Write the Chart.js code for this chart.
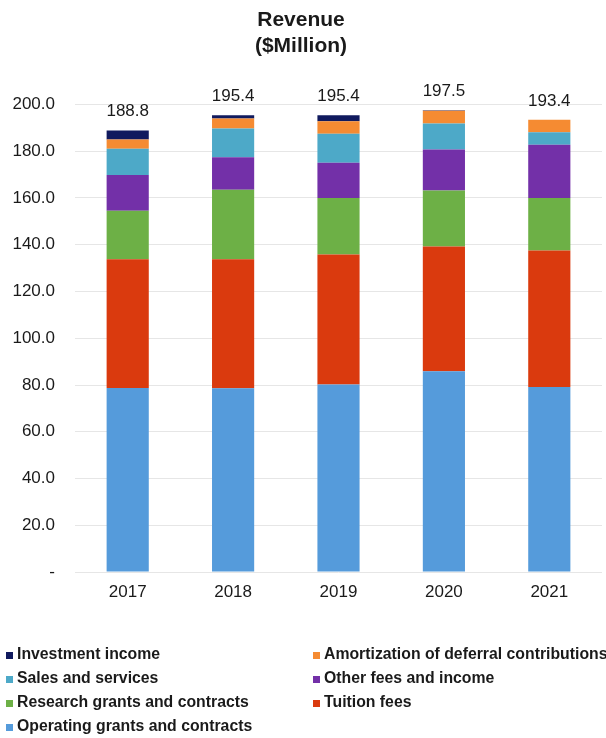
<!DOCTYPE html>
<html>
<head>
<meta charset="utf-8">
<script src="https://cdn.jsdelivr.net/npm/chart.js@4"></script>
<style>
  html, body { margin: 0; padding: 0; background: #ffffff; }
  #wrap { width: 606px; height: 738px; position: relative; }
</style>
</head>
<body>
<div id="wrap"><canvas id="grafico" width="606" height="738"></canvas></div>
<script>
// anos e componentes da receita (em $ milhoes), de baixo para cima na pilha
const anos = ['2017', '2018', '2019', '2020', '2021'];
const operatingGrants = [78.7, 78.6, 80.2, 85.9, 79.2];
const tuitionFees = [55.1, 55.2, 55.6, 53.3, 58.3];
const researchGrants = [20.7, 29.7, 24.2, 24.0, 22.5];
const otherFees = [15.3, 13.9, 15.0, 17.5, 22.7];
const salesServices = [11.2, 12.3, 12.5, 11.1, 5.4];
const amortization = [4.0, 4.3, 5.3, 5.5, 5.3];
const investmentIncome = [3.8, 1.4, 2.6, 0.2, 0.0];
const ticksY = [0, 20, 40, 60, 80, 100, 120, 140, 160, 180, 200];

const fonte = "'Liberation Sans', Arial, sans-serif";

function serie(label, data, cor) {
    return {
        label: label,
        data: data,
        backgroundColor: cor,
        borderWidth: 0,
        barPercentage: 0.4,
        categoryPercentage: 1.0
    };
}

const series = [
    serie('Operating grants and contracts', operatingGrants, '#559BDB'),
    serie('Tuition fees', tuitionFees, '#DA3A0E'),
    serie('Research grants and contracts', researchGrants, '#6DB046'),
    serie('Other fees and income', otherFees, '#7330A8'),
    serie('Sales and services', salesServices, '#4DA9C8'),
    serie('Amortization of deferral contributions', amortization, '#F58B32'),
    serie('Investment income', investmentIncome, '#101A5E')
];

// total escrito acima de cada barra
const totais = {
    id: 'totais',
    afterDatasetsDraw(chart) {
        const ctx = chart.ctx;
        const y = chart.scales.y;
        const meta = chart.getDatasetMeta(0);
        ctx.save();
        ctx.font = '17px ' + fonte;
        ctx.fillStyle = '#1a1a1a';
        ctx.textAlign = 'center';
        ctx.textBaseline = 'middle';
        anos.forEach((ano, i) => {
            let soma = 0;
            chart.data.datasets.forEach(d => { soma += d.data[i]; });
            ctx.fillText(soma.toFixed(1), meta.data[i].x, y.getPixelForValue(soma) - 19);
        });
        ctx.restore();
    }
};

// legenda em duas colunas, na ordem inversa da pilha
const legenda = {
    id: 'legenda',
    afterDraw(chart) {
        const ctx = chart.ctx;
        const itens = chart.data.datasets.slice().reverse();
        ctx.save();
        ctx.font = 'bold 15.8px ' + fonte;
        ctx.textBaseline = 'middle';
        ctx.textAlign = 'left';
        itens.forEach((d, i) => {
            const col = i % 2;
            const lin = Math.floor(i / 2);
            const x = col === 0 ? 6 : 313;
            const yy = 655 + lin * 24;
            ctx.fillStyle = d.backgroundColor;
            ctx.fillRect(x, yy - 3, 7, 7);
            ctx.fillStyle = '#1a1a1a';
            ctx.fillText(d.label, x + 11, yy);
        });
        ctx.restore();
    }
};

new Chart(document.getElementById('grafico'), {
    type: 'bar',
    data: {
        labels: anos,
        datasets: series
    },
    options: {
        responsive: false,
        animation: false,
        layout: { padding: { left: 0, right: 4, top: 0, bottom: 125.5 } },
        plugins: {
            legend: { display: false },
            tooltip: { enabled: false },
            title: {
                display: true,
                text: ['Revenue', '($Million)'],
                color: '#1a1a1a',
                font: { family: fonte, size: 21, weight: 'bold', lineHeight: 1.2 },
                padding: { top: 8, bottom: 46 }
            }
        },
        scales: {
            x: {
                stacked: true,
                grid: { display: false, drawTicks: false },
                border: { display: false },
                ticks: { color: '#1a1a1a', padding: 10, font: { family: fonte, size: 17 } }
            },
            y: {
                stacked: true,
                min: 0,
                max: 200,
                afterFit(scale) { scale.width = 75; },
                afterBuildTicks(scale) { scale.ticks = ticksY.map(v => ({ value: v })); },
                grid: { color: '#e6e6e6', drawTicks: false },
                border: { display: false },
                ticks: {
                    color: '#1a1a1a',
                    padding: 20,
                    font: { family: fonte, size: 17 },
                    callback: v => v === 0 ? '-' : v.toFixed(1)
                }
            }
        }
    },
    plugins: [totais, legenda]
});
</script>
</body>
</html>
